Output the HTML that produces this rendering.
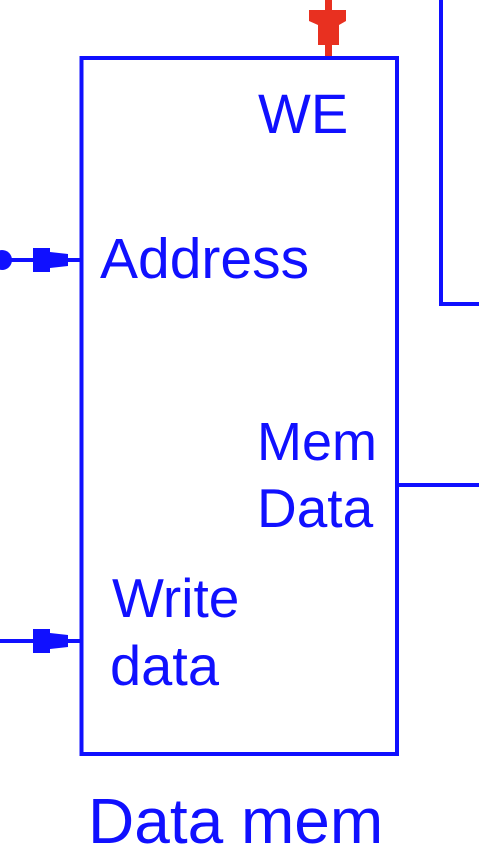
<!DOCTYPE html>
<html><head><style>
html,body{margin:0;padding:0;background:#fff;width:479px;height:852px;overflow:hidden}
svg{display:block}
text{font-family:"Liberation Sans",sans-serif;fill:#1010ff}
</style></head><body>
<svg width="479" height="852" viewBox="0 0 479 852" xmlns="http://www.w3.org/2000/svg">
<g stroke="#1010ff" stroke-width="4" fill="none">
<rect x="81.5" y="58" width="315.5" height="696"/>
<polyline points="441,0 441,304 479,304"/>
<line x1="398" y1="485" x2="479" y2="485"/>
<line x1="0" y1="260" x2="80" y2="260"/>
<line x1="0" y1="641" x2="80" y2="641"/>
</g>
<g fill="#1010ff">
<circle cx="2" cy="260" r="10"/>
<rect x="33" y="248" width="17" height="24"/>
<polygon points="50,252 68,254 68,266 50,268"/>
<rect x="33" y="629" width="17" height="24"/>
<polygon points="50,633 68,635 68,647 50,649"/>
</g>
<g fill="#e83020">
<rect x="325" y="0" width="7" height="56"/>
<polygon points="309,10 346,10 346,21 339,25 339,45 318,45 318,25 309,21"/>
</g>
<text x="258" y="133" font-size="56">WE</text>
<text x="100" y="278" font-size="57">Address</text>
<text x="257" y="460" font-size="54">Mem</text>
<text x="257" y="527" font-size="55">Data</text>
<text x="112" y="617" font-size="55">Write</text>
<text x="110" y="685" font-size="56">data</text>
<text x="88" y="843" font-size="64">Data mem</text>
</svg>
</body></html>
